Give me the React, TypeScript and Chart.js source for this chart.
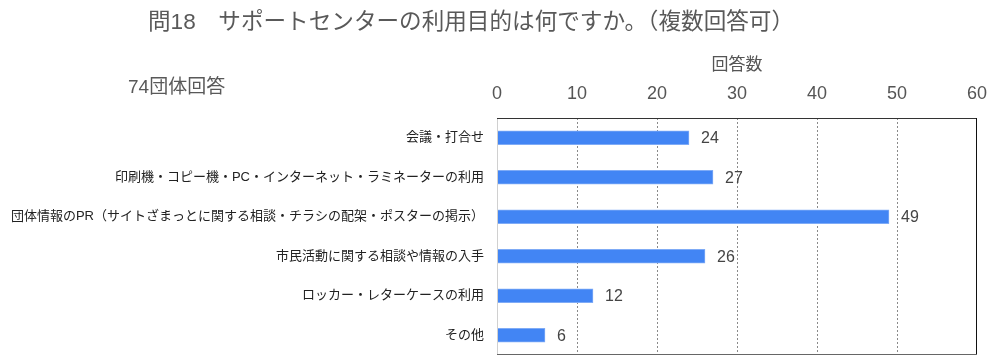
import React, { useEffect, useRef } from "react";
import { Chart, registerables } from "chart.js";

Chart.register(...registerables);

const titleText = "問18　サポートセンターの利用目的は何ですか。（複数回答可）";
const subText = "74団体回答";
const axisTitle = "回答数";
const categories = [
  "会議・打合せ",
  "印刷機・コピー機・PC・インターネット・ラミネーターの利用",
  "団体情報のPR（サイトざまっとに関する相談・チラシの配架・ポスターの掲示）",
  "市民活動に関する相談や情報の入手",
  "ロッカー・レターケースの利用",
  "その他",
];
const counts = [24, 27, 49, 26, 12, 6];
const xMin = 0;
const xMax = 60;
const xStep = 10;

const FONT = "'Liberation Sans', Arial, 'Noto Sans CJK JP', sans-serif";

const decorPlugin = {
  id: "decor",
  afterDraw(chart: any) {
    const { ctx, chartArea } = chart;
    const { left, right, top, bottom } = chartArea;
    ctx.save();
    // frame
    ctx.lineWidth = 1;
    ctx.strokeStyle = "#d0d0d0";
    ctx.beginPath();
    ctx.moveTo(left + 0.5, top);
    ctx.lineTo(left + 0.5, bottom);
    ctx.stroke();
    ctx.strokeStyle = "#333333";
    ctx.beginPath();
    ctx.moveTo(left, top + 0.5);
    ctx.lineTo(right, top + 0.5);
    ctx.stroke();
    ctx.strokeStyle = "#111111";
    ctx.beginPath();
    ctx.moveTo(right - 0.5, top);
    ctx.lineTo(right - 0.5, bottom);
    ctx.stroke();
    ctx.strokeStyle = "#666666";
    ctx.beginPath();
    ctx.moveTo(left, bottom - 0.5);
    ctx.lineTo(right, bottom - 0.5);
    ctx.stroke();

    // data labels
    const meta = chart.getDatasetMeta(0);
    ctx.fillStyle = "#444444";
    ctx.font = "16px " + FONT;
    ctx.textAlign = "left";
    ctx.textBaseline = "middle";
    meta.data.forEach((bar: any, i: number) => {
      ctx.fillText(String(counts[i]), bar.x + 12, bar.y + 1);
    });

    // title and subtitle
    ctx.fillStyle = "#595959";
    ctx.font = "22.6px " + FONT;
    ctx.textAlign = "left";
    ctx.fillText(titleText, 148, 23);
    ctx.font = "19px " + FONT;
    ctx.fillText(subText, 128, 88);
    ctx.restore();
  },
};

export default function App() {
  const ref = useRef<HTMLCanvasElement | null>(null);
  useEffect(() => {
    if (!ref.current) return;
    const chart = new Chart(ref.current, {
      type: "bar",
      data: {
        labels: categories,
        datasets: [
          {
            data: counts,
            backgroundColor: "#4285f4",
            borderColor: "#7fabf6",
            borderWidth: 1,
            borderSkipped: "left",
            barThickness: 14,
          },
        ],
      },
      options: {
        indexAxis: "y",
        responsive: false,
        animation: false,
        layout: { padding: { left: 0, right: 23, top: 0, bottom: 6 } },
        plugins: {
          legend: { display: false },
          title: { display: false },
          tooltip: { enabled: false },
        },
        scales: {
          x: {
            position: "top",
            min: xMin,
            max: xMax,
            ticks: {
              stepSize: xStep,
              color: "#555555",
              font: { size: 18, family: FONT },
              padding: 13,
            },
            grid: {
              drawTicks: false,
              color: (c: any) =>
                c.tick && (c.tick.value === xMin || c.tick.value === xMax)
                  ? "rgba(0,0,0,0)"
                  : "#8a8a8a",
            },
            border: { display: false, dash: [2, 2] },
            title: {
              display: true,
              text: axisTitle,
              color: "#555555",
              font: { size: 17, family: FONT },
              padding: { top: 55, bottom: 0 },
            },
            afterFit: (scale: any) => {
              scale.height = 118;
              scale.paddingLeft = 0;
              scale.paddingRight = 0;
            },
          },
          y: {
            ticks: {
              color: "#222222",
              font: { size: 13, family: FONT },
              padding: 13,
            },
            grid: { display: false, drawTicks: false },
            border: { display: false },
            afterFit: (scale: any) => {
              scale.width = 497;
              scale.paddingTop = 0;
              scale.paddingBottom = 0;
            },
          },
        },
      },
      plugins: [decorPlugin],
    } as any);
    return () => chart.destroy();
  }, []);
  return (
    <div style={{ position: "absolute", left: 0, top: 0, width: 1000, height: 361, background: "#fff" }}>
      <canvas ref={ref} width={1000} height={361} style={{ width: 1000, height: 361 }} />
    </div>
  );
}
